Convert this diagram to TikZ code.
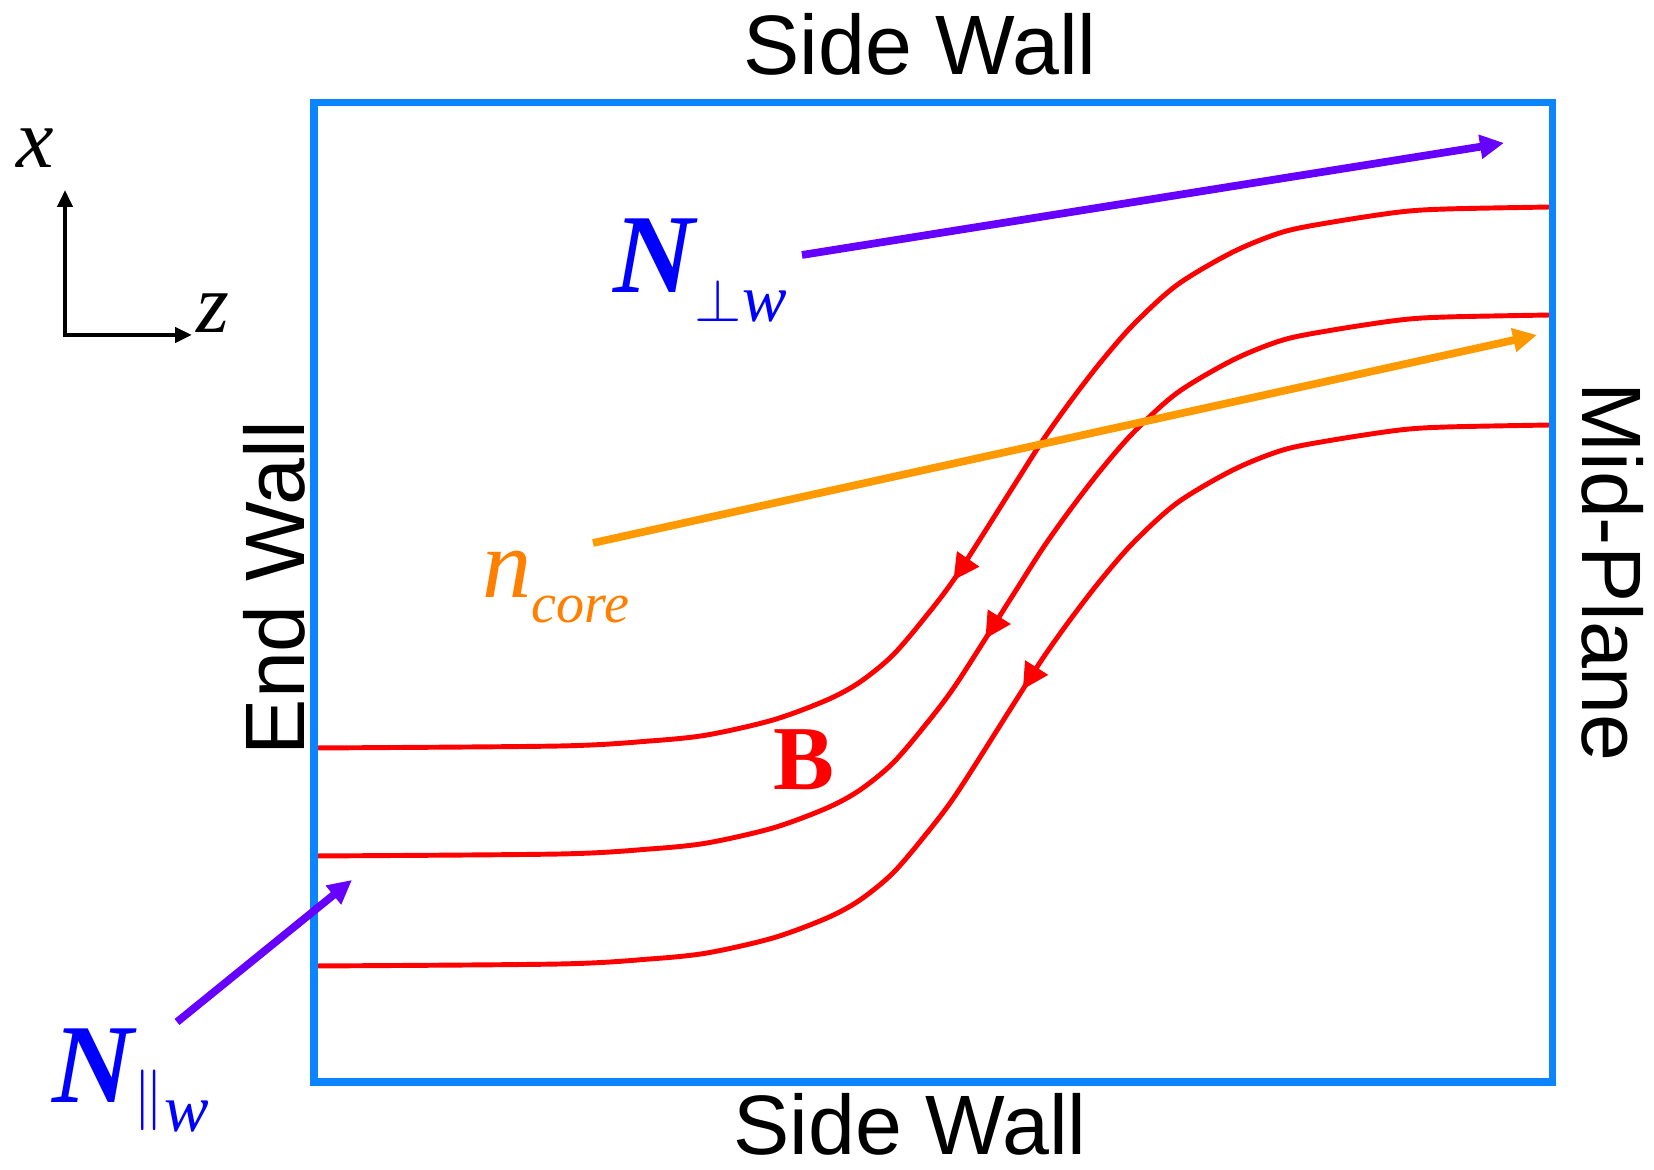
\documentclass[tikz,border=0pt]{standalone}
\usepackage{fontspec}
\setmainfont{Liberation Serif}
\newfontfamily\wallfont{Liberation Sans}
\usepackage{xcolor}
\usetikzlibrary{arrows.meta,decorations.markings}
\definecolor{wallblue}{HTML}{0A84FF}
\definecolor{fieldred}{HTML}{FF0000}
\definecolor{fluxviolet}{HTML}{6600FF}
\definecolor{coreorange}{HTML}{FF9900}
\definecolor{coretext}{HTML}{FF8000}
\definecolor{nblue}{HTML}{0000FF}
\newcommand{\lowsub}[1]{\raisebox{-0.29cm}{\fontsize{19}{22}\selectfont#1}}
\tikzset{wallbox/.style={draw=wallblue, line width=2pt}, bline/.style={color=fieldred, line width=1.4pt}, flux/.style={-{Triangle[length=2.4mm,width=2.3mm]}, line width=2.2pt}, axis/.style={{Triangle[length=1.7mm,width=1.5mm]}-{Triangle[length=1.7mm,width=1.5mm]}, line width=1.2pt}, walllab/.style={font=\wallfont\fontsize{24}{28}\selectfont, inner sep=0pt}, lab/.style={inner sep=0pt}}

\begin{document}
\begin{tikzpicture}
\useasboundingbox (0,0) rectangle (16.54,11.70);
% field lines, drawn from the mid-plane towards the end wall
\foreach \dy/\pos in {0/7.62, 1.08/7.03, 2.18/6.33}
  \draw[bline, yshift=-\dy cm, postaction={decorate, decoration={markings, mark=at position \pos cm with {\arrow{Triangle[length=2.6mm,width=2.6mm]}}}}] plot[smooth] coordinates {(15.52,9.63) (14.47,9.61) (14.00,9.58) (13.33,9.48) (12.83,9.38) (12.33,9.18) (11.77,8.85) (11.33,8.45) (11.00,8.07) (10.70,7.68) (10.43,7.30) (10.13,6.83) (9.57,5.95) (9.27,5.55) (8.93,5.15) (8.60,4.88) (8.27,4.70) (7.73,4.50) (7.07,4.35) (6.50,4.29) (5.60,4.24) (3.14,4.22)};
\draw[wallbox] (3.14,0.88) rectangle (15.52,10.67);
\node[walllab, anchor=base] (topwall) at (9.20,10.95) {Side Wall};
\node[walllab, anchor=base] (botwall) at (9.10,0.15) {Side Wall};
\node[walllab, anchor=base, rotate=90] (endwall) at (3.04,5.82) {End Wall};
\node[walllab, anchor=base, rotate=-90] (midplane) at (15.82,5.98) {Mid-Plane};
% axes
\coordinate (orig) at (0.65,8.35); \coordinate (xtip) at (0.65,9.80); \coordinate (ztip) at (1.92,8.35);
\draw[axis] (xtip) -- (orig) -- (ztip);
\node[lab, anchor=base, font=\fontsize{24}{28}\selectfont\itshape] (xlab) at (0.35,10.02) {x};
\node[lab, anchor=base, font=\fontsize{24}{28}\selectfont\itshape] (zlab) at (2.13,8.37) {z};
% fluxes
\coordinate (perpA) at (8.02,9.15); \coordinate (perpB) at (15.04,10.27);
\coordinate (parA) at (1.77,1.48); \coordinate (parB) at (3.52,2.90);
\coordinate (coreA) at (5.93,6.27); \coordinate (coreB) at (15.37,8.35);
\draw[flux, color=fluxviolet] (perpA) -- (perpB);
\draw[flux, color=fluxviolet] (parA) -- (parB);
\draw[flux, color=coreorange] (coreA) -- (coreB);
\node[lab, text=nblue, anchor=base west] (nperp) at (6.13,8.77) {{\fontsize{32}{36}\selectfont\bfseries\itshape N}\lowsub{$\perp$\itshape w}};
\node[lab, text=nblue, anchor=base west] (npar) at (0.52,0.67) {{\fontsize{32}{36}\selectfont\bfseries\itshape N}\lowsub{\raisebox{0.16cm}{\fontsize{19}{22}\selectfont$\|$}\itshape w}};
\node[lab, text=coretext, anchor=base west] (ncore) at (4.82,5.72) {{\fontsize{28}{32}\selectfont\itshape n}\raisebox{-0.25cm}{\fontsize{16}{19}\selectfont\itshape core}};
\node[lab, text=fieldred, anchor=base, font=\fontsize{26}{30}\selectfont\bfseries] (bfield) at (8.04,3.80) {B};
\end{tikzpicture}
\end{document}
